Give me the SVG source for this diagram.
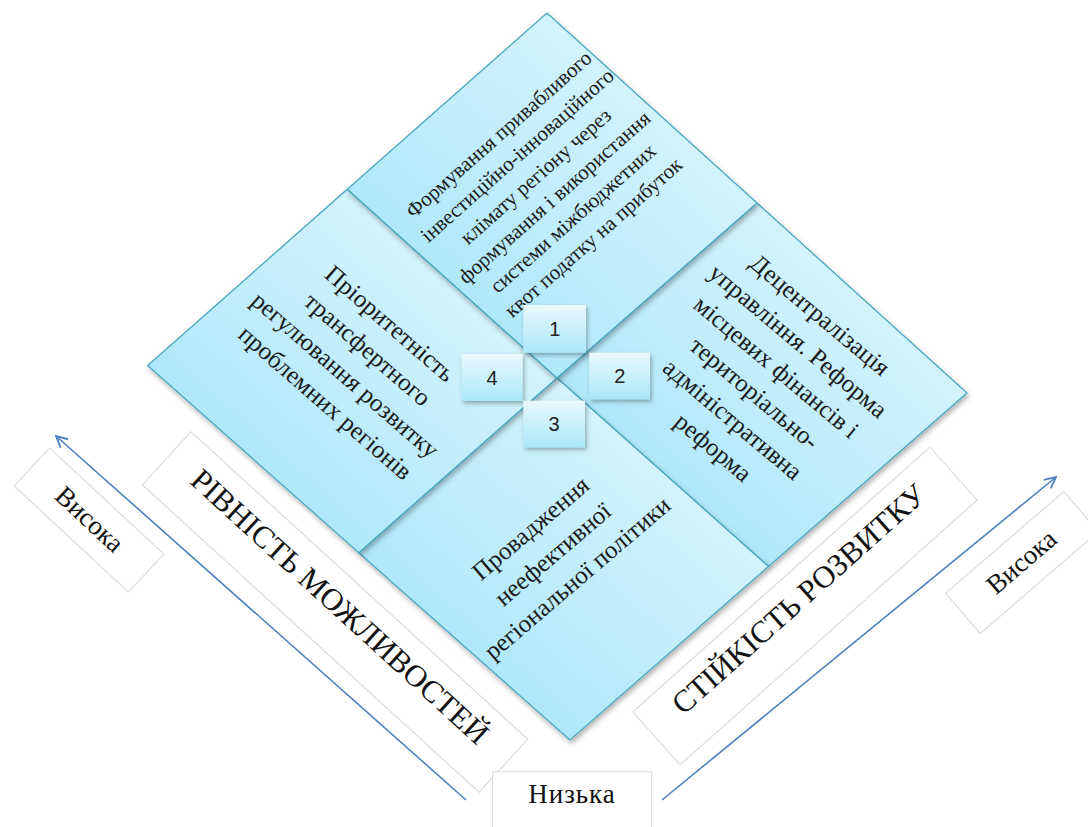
<svg xmlns="http://www.w3.org/2000/svg" width="1088" height="827" viewBox="0 0 1088 827">
<style>
.quad{fill:url(#qg);stroke:#4aa8c0;stroke-width:1.3;filter:url(#sh)}
.qt{font-family:"Liberation Serif","Times New Roman",serif;fill:#1a1a1a;text-anchor:middle}
.lbl{fill:#fff;stroke:#d6d6d6;stroke-width:1}
.lt{font-family:"Liberation Serif","Times New Roman",serif;fill:#111;text-anchor:middle}
.num{fill:url(#ng);filter:url(#sh2)}
.nt{font-family:"Liberation Sans",Arial,sans-serif;font-size:20px;fill:#222;text-anchor:middle}
.arr{stroke:#4f81bd;stroke-width:1.6;fill:none;marker-end:url(#ah)}
</style>
<defs>
<linearGradient id="qg" x1="1" y1="0" x2="0" y2="1">
<stop offset="0" stop-color="#e6f8fe"/>
<stop offset="1" stop-color="#9de3f8"/>
</linearGradient>
<linearGradient id="ng" x1="0" y1="0" x2="0" y2="1">
<stop offset="0" stop-color="#eaf9fe"/>
<stop offset="1" stop-color="#aae7f8"/>
</linearGradient>
<filter id="sh" x="-10%" y="-10%" width="130%" height="130%">
<feDropShadow dx="1.5" dy="3" stdDeviation="2.5" flood-color="#000" flood-opacity="0.3"/>
</filter>
<filter id="sh2" x="-20%" y="-20%" width="150%" height="150%">
<feDropShadow dx="1.5" dy="2.5" stdDeviation="2" flood-color="#000" flood-opacity="0.3"/>
</filter>
<marker id="ah" viewBox="0 0 10 10" refX="9" refY="5" markerWidth="14" markerHeight="14" markerUnits="userSpaceOnUse" orient="auto">
<path d="M1,1 L9,5 L1,9" fill="none" stroke="#4f81bd" stroke-width="1.3"/>
</marker>
</defs>
<rect width="1088" height="827" fill="#fff"/>

<g id="connectors">
<line class="arr" x1="466" y1="800" x2="56" y2="436"/>
<line class="arr" x1="662" y1="800" x2="1056" y2="477"/>
</g>

<g id="label-rivnist">
<rect class="lbl" x="-228" y="-36" width="456" height="72" transform="translate(335,612) rotate(42.4)"/>
<text class="lt" font-size="31" transform="translate(335,612) rotate(42.4)" x="0" y="3">РІВНІСТЬ МОЖЛИВОСТЕЙ</text>
</g>
<g id="label-stiykist">
<rect class="lbl" x="-199" y="-35.5" width="398" height="71" transform="translate(805,606) rotate(-41.7)"/>
<text class="lt" font-size="31" transform="translate(805,606) rotate(-41.7)" x="0" y="1">СТІЙКІСТЬ РОЗВИТКУ</text>
</g>
<g id="label-vysoka-left">
<rect class="lbl" x="-78" y="-26" width="156" height="52" transform="translate(89,520) rotate(42.9)"/>
<text class="lt" font-size="27" transform="translate(89,520) rotate(42.9)" x="0" y="8">Висока</text>
</g>
<g id="label-vysoka-right">
<rect class="lbl" x="-78" y="-26.5" width="156" height="53" transform="translate(1022,562.5) rotate(-40.7)"/>
<text class="lt" font-size="27" transform="translate(1022,562.5) rotate(-40.7)" x="0" y="8">Висока</text>
</g>
<g id="label-nyzka">
<rect class="lbl" x="492.7" y="771.7" width="159" height="70"/>
<text class="lt" font-size="27" x="572" y="803" letter-spacing="1">Низька</text>
</g>

<g id="quad-2">
<polygon class="quad" points="757,203 967,393 768.5,566.5 557,378"/>
<text class="qt" font-size="25" transform="translate(768,382) rotate(40)">
<tspan x="0" y="-76.5">Децентралізація</tspan>
<tspan x="0" dy="34">управління. Реформа</tspan>
<tspan x="0" dy="34">місцевих фінансів і</tspan>
<tspan x="0" dy="34">територіально-</tspan>
<tspan x="0" dy="34">адміністративна</tspan>
<tspan x="0" dy="34">реформа</tspan>
</text>
</g>
<g id="quad-3">
<polygon class="quad" points="557,378 768.5,566.5 570,740 358.8,552.7"/>
<text class="qt" font-size="25" transform="translate(555,552) rotate(-40.5)">
<tspan x="0" y="-25.5">Провадження</tspan>
<tspan x="0" dy="34">неефективної</tspan>
<tspan x="0" dy="34">регіональної політики</tspan>
</text>
</g>
<g id="quad-4">
<polygon class="quad" points="347.3,189.2 557,378 358.8,552.7 147.7,365.5"/>
<text class="qt" font-size="25" transform="translate(359,364) rotate(41)">
<tspan x="0" y="-42.5">Пріоритетність</tspan>
<tspan x="0" dy="34">трансфертного</tspan>
<tspan x="0" dy="34">регулювання розвитку</tspan>
<tspan x="0" dy="34">проблемних регіонів</tspan>
</text>
</g>
<g id="quad-1">
<polygon class="quad" points="547,13 757,203 557,378 347.3,189.2"/>
<text class="qt" font-size="21" transform="translate(547,185) rotate(-41.5)">
<tspan x="0" y="-63">Формування привабливого</tspan>
<tspan x="0" dy="28">інвестиційно-інноваційного</tspan>
<tspan x="0" dy="28">клімату регіону через</tspan>
<tspan x="0" dy="28">формування і використання</tspan>
<tspan x="0" dy="28">системи міжбюджетних</tspan>
<tspan x="0" dy="28">квот податку на прибуток</tspan>
</text>
</g>

<g id="num-1">
<rect class="num" x="523.3" y="305" width="62.7" height="47.7"/>
<text class="nt" x="554.7" y="336">1</text>
</g>
<g id="num-4">
<rect class="num" x="461.7" y="354" width="61" height="47"/>
<text class="nt" x="492" y="384.5">4</text>
</g>
<g id="num-2">
<rect class="num" x="589.3" y="352.7" width="60.7" height="46.6"/>
<text class="nt" x="619.7" y="383">2</text>
</g>
<g id="num-3">
<rect class="num" x="523.3" y="400.7" width="61.7" height="46.6"/>
<text class="nt" x="554" y="431">3</text>
</g>
</svg>
